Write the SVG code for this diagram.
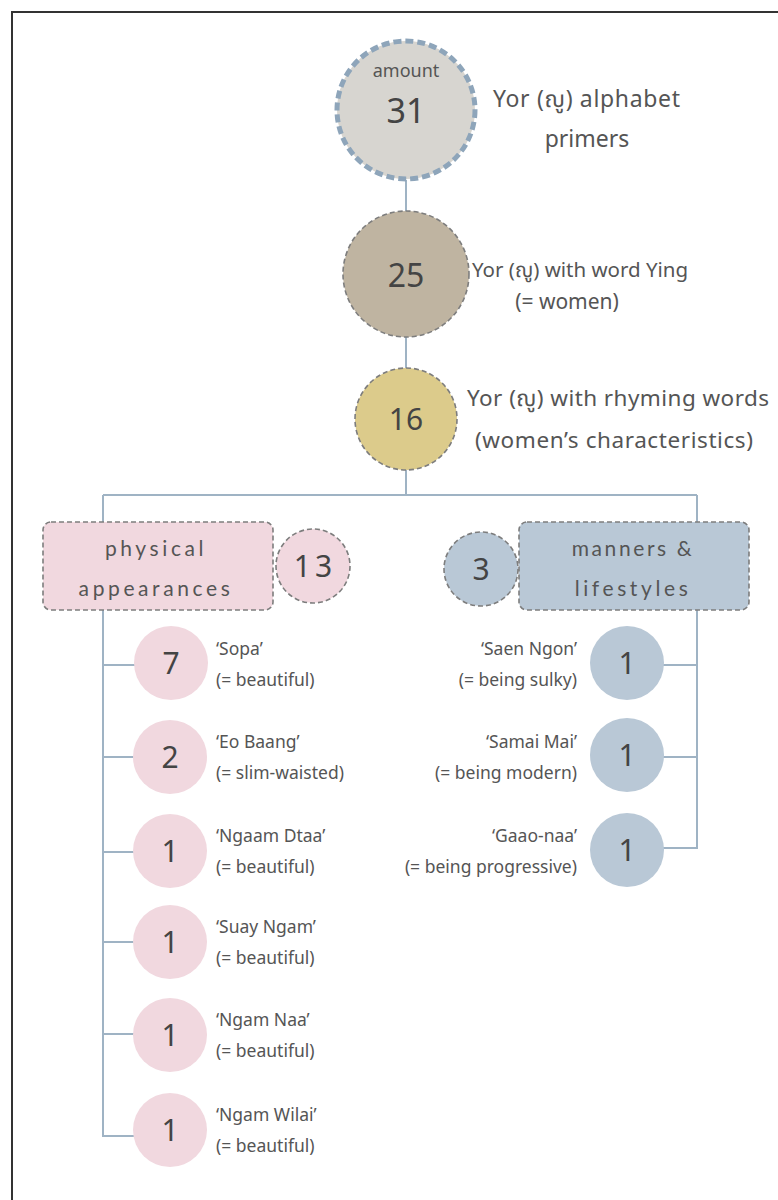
<svg xmlns="http://www.w3.org/2000/svg" width="778" height="1200" viewBox="0 0 778 1200">
  <style>
    .t { font-family: "Noto Sans", "Noto Sans Thai", "DejaVu Sans", sans-serif; fill: #555; }
    .num { font-family: "Noto Sans", "DejaVu Sans", sans-serif; fill: #444; text-anchor: middle; }
    .cat { font-family: "Lato", "Noto Sans", sans-serif; fill: #555; font-size: 21px; letter-spacing: 3.6px; text-anchor: middle; }
    .conn { stroke: #9fb3c4; stroke-width: 2; fill: none; }
    .dash { stroke: #7d7d7d; stroke-width: 1.6; stroke-dasharray: 5 3; }
    .pink { fill: #f1d8df; }
    .blue { fill: #b9c8d6; }
    .lbl { font-size: 17.5px; }
  </style>

  <rect x="0" y="0" width="778" height="1200" fill="#ffffff"/>
  <!-- frame -->
  <path d="M12 1200 V12 H778" fill="none" stroke="#333" stroke-width="2"/>

  <!-- connectors -->
  <g id="connectors" class="conn">
    <path d="M406 180 V495"/>
    <path d="M103 495 H697"/>
    <path d="M103 495 V1136 H170"/>
    <path d="M103 665 H170 M103 757 H170 M103 852 H170 M103 942 H170 M103 1034 H170"/>
    <path d="M697 495 V848 H627 M697 665 H627 M697 757 H627"/>
  </g>

  <g id="n-amount">
    <circle cx="406" cy="110" r="69" fill="#d7d5d0" stroke="#8ea5ba" stroke-width="5" stroke-dasharray="8 4"/>
    <text class="t" x="406" y="77" font-size="18" text-anchor="middle">amount</text>
    <text class="num" x="406" y="123" font-size="34">31</text>
    <text class="t" x="493" y="107" font-size="23" textLength="187" lengthAdjust="spacing">Yor (ญู) alphabet</text>
    <text class="t" x="587" y="147" font-size="23" text-anchor="middle">primers</text>
  </g>

  <g id="n-ying">
    <circle cx="406" cy="274" r="63" fill="#bfb4a1" class="dash"/>
    <text class="num" x="406" y="287" font-size="32">25</text>
    <text class="t" x="472" y="277" font-size="20.5">Yor (ญู) with word Ying</text>
    <text class="t" x="567" y="309" font-size="21" text-anchor="middle">(= women)</text>
  </g>

  <g id="n-rhyme">
    <circle cx="406" cy="419" r="51" fill="#dccb8b" class="dash"/>
    <text class="num" x="406" y="430" font-size="30">16</text>
    <text class="t" x="467" y="406" font-size="22.5" textLength="302" lengthAdjust="spacing">Yor (ญู) with rhyming words</text>
    <text class="t" x="475" y="448" font-size="22.5" textLength="278" lengthAdjust="spacing">(women’s characteristics)</text>
  </g>

  <g id="n-physical">
    <rect x="43" y="522" width="230" height="88" rx="8" class="pink dash"/>
    <text class="cat" x="156" y="556">physical</text>
    <text class="cat" x="156" y="596">appearances</text>
  </g>
  <g id="n-physical-count">
    <circle cx="313" cy="566" r="37" class="pink dash"/>
    <text class="num" x="315" y="577" font-size="30" letter-spacing="4">13</text>
  </g>

  <g id="n-manners">
    <rect x="519" y="522" width="230" height="88" rx="8" class="blue dash"/>
    <text class="cat" x="633" y="556" style="letter-spacing:2.6px">manners &amp;</text>
    <text class="cat" x="633" y="596">lifestyles</text>
  </g>
  <g id="n-manners-count">
    <circle cx="481" cy="569" r="37" class="blue dash"/>
    <text class="num" x="481" y="580" font-size="30">3</text>
  </g>

  <!-- physical appearance words -->
  <g id="n-sopa">
    <circle cx="171" cy="663" r="37" class="pink"/>
    <text class="num" x="171" y="674" font-size="30">7</text>
    <text class="t lbl" x="216" y="655">‘Sopa’</text>
    <text class="t lbl" x="216" y="686">(= beautiful)</text>
  </g>
  <g id="n-eobaang">
    <circle cx="170" cy="757" r="37" class="pink"/>
    <text class="num" x="170" y="768" font-size="30">2</text>
    <text class="t lbl" x="216" y="748">‘Eo Baang’</text>
    <text class="t lbl" x="216" y="779">(= slim-waisted)</text>
  </g>
  <g id="n-ngaamdtaa">
    <circle cx="170" cy="851" r="37" class="pink"/>
    <text class="num" x="170" y="862" font-size="30">1</text>
    <text class="t lbl" x="216" y="842">‘Ngaam Dtaa’</text>
    <text class="t lbl" x="216" y="873">(= beautiful)</text>
  </g>
  <g id="n-suayngam">
    <circle cx="170" cy="942" r="37" class="pink"/>
    <text class="num" x="170" y="953" font-size="30">1</text>
    <text class="t lbl" x="216" y="933">‘Suay Ngam’</text>
    <text class="t lbl" x="216" y="964">(= beautiful)</text>
  </g>
  <g id="n-ngamnaa">
    <circle cx="170" cy="1035" r="37" class="pink"/>
    <text class="num" x="170" y="1046" font-size="30">1</text>
    <text class="t lbl" x="216" y="1026">‘Ngam Naa’</text>
    <text class="t lbl" x="216" y="1057">(= beautiful)</text>
  </g>
  <g id="n-ngamwilai">
    <circle cx="170" cy="1130" r="37" class="pink"/>
    <text class="num" x="170" y="1141" font-size="30">1</text>
    <text class="t lbl" x="216" y="1121">‘Ngam Wilai’</text>
    <text class="t lbl" x="216" y="1152">(= beautiful)</text>
  </g>

  <!-- manners and lifestyle words -->
  <g id="n-saenngon">
    <circle cx="627" cy="663" r="37" class="blue"/>
    <text class="num" x="627" y="674" font-size="30">1</text>
    <text class="t lbl" x="577" y="655" text-anchor="end">‘Saen Ngon’</text>
    <text class="t lbl" x="577" y="686" text-anchor="end">(= being sulky)</text>
  </g>
  <g id="n-samaimai">
    <circle cx="627" cy="755" r="37" class="blue"/>
    <text class="num" x="627" y="766" font-size="30">1</text>
    <text class="t lbl" x="577" y="748" text-anchor="end">‘Samai Mai’</text>
    <text class="t lbl" x="577" y="779" text-anchor="end">(= being modern)</text>
  </g>
  <g id="n-gaaonaa">
    <circle cx="627" cy="850" r="37" class="blue"/>
    <text class="num" x="627" y="861" font-size="30">1</text>
    <text class="t lbl" x="577" y="842" text-anchor="end">‘Gaao-naa’</text>
    <text class="t lbl" x="577" y="873" text-anchor="end">(= being progressive)</text>
  </g>
</svg>
